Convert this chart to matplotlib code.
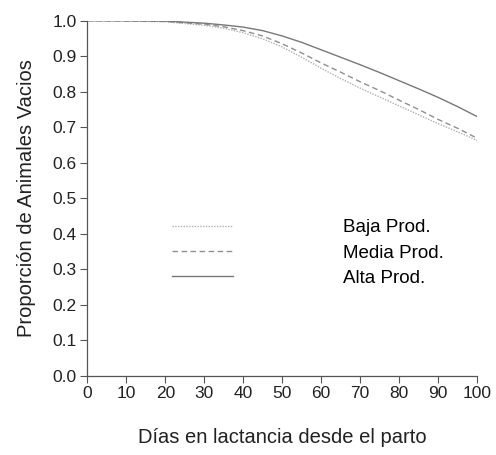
import numpy as np
import matplotlib
matplotlib.use("Agg")
import matplotlib.pyplot as plt

plt.rcParams['font.family'] = ['Liberation Sans', 'DejaVu Sans']

# Data
dias = [0, 10, 20, 30, 35, 40, 45, 50, 55, 60, 65, 70, 75, 80, 85, 90, 95, 100]
baja = [1.0, 0.999, 0.997, 0.987, 0.979, 0.966, 0.949, 0.926, 0.897, 0.866,
        0.837, 0.810, 0.785, 0.760, 0.735, 0.710, 0.687, 0.663]
media = [1.0, 0.999, 0.998, 0.990, 0.983, 0.972, 0.957, 0.935, 0.909, 0.881,
         0.855, 0.828, 0.803, 0.776, 0.750, 0.722, 0.697, 0.669]
alta = [1.0, 1.0, 0.999, 0.993, 0.988, 0.982, 0.972, 0.957, 0.939, 0.918,
        0.897, 0.876, 0.854, 0.831, 0.808, 0.784, 0.758, 0.730]
etiquetas = ["Baja Prod.", "Media Prod.", "Alta Prod."]

fig = plt.figure(figsize=(4.96, 4.55), dpi=100)
ax = fig.add_axes([0.176, 0.174, 0.786, 0.7805])

ax.plot(dias, baja, color="#b0b0b0", linestyle=(0, (1, 1)), linewidth=1.0, label=etiquetas[0])
ax.plot(dias, media, color="#909090", linestyle=(0, (4, 2.5)), linewidth=1.0, label=etiquetas[1])
ax.plot(dias, alta, color="#787878", linestyle="-", linewidth=1.0, label=etiquetas[2])

ax.set_xlim(0, 100)
ax.set_ylim(0, 1.0)
ax.set_xticks(np.arange(0, 101, 10))
ax.set_yticks(np.arange(0, 1.01, 0.1))
ax.set_yticklabels(["%.1f" % v for v in np.arange(0, 1.01, 0.1)])

for s in ["top", "right"]:
    ax.spines[s].set_visible(False)
for s in ["left", "bottom"]:
    ax.spines[s].set_color("#555555")
    ax.spines[s].set_linewidth(0.9)
ax.tick_params(direction="out", length=5, width=0.8, color="#555555",
               labelsize=12.5, labelcolor="#222222", pad=2.5)

ax.set_xlabel("Días en lactancia desde el parto", fontsize=14.5, color="#222222", labelpad=19)
ax.set_ylabel("Proporción de Animales Vacios", fontsize=14.5, color="#222222", labelpad=12)

ax.legend(loc="upper left", bbox_to_anchor=(0.217, 0.441), frameon=False,
          borderaxespad=0, borderpad=0, handlelength=3.25, handletextpad=5.9,
          labelspacing=0.43, fontsize=13.5)

plt.savefig("out.png", dpi=100)
